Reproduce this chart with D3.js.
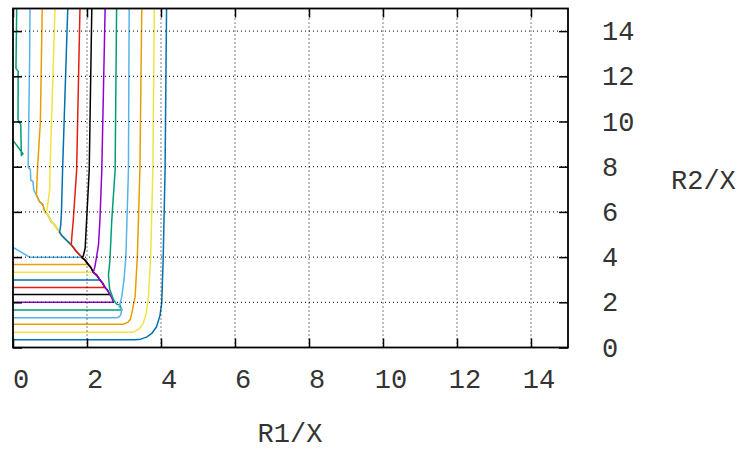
<!DOCTYPE html>
<html>
<head>
<meta charset="utf-8">
<script src="https://cdn.jsdelivr.net/npm/d3@7"></script>
<style>
  html, body { margin: 0; padding: 0; background: #fff; }
  svg { display: block; }
  text { font-family: "Liberation Mono", "DejaVu Sans Mono", monospace; fill: #333; }
</style>
</head>
<body>
<svg id="chart" width="746" height="450"></svg>
<script>
// ---------- data ----------
const xTicks = [0, 2, 4, 6, 8, 10, 12, 14];
const yTicks = [0, 2, 4, 6, 8, 10, 12, 14];
const xTitle = "R1/X";
const yTitle = "R2/X";

const contourColors = ["#009e73", "#56b4e9", "#e69f00", "#f0e442", "#0072b2", "#e51e10", "#000000",
                       "#9400d3", "#009e73", "#56b4e9", "#e69f00", "#f0e442", "#0072b2"];

// shared fold line ("ridge") that the inner contours run along
const ridge = [[0.42,7.95],[0.47,7.88],[0.48,7.4],[0.54,7.35],[0.56,6.97],[0.63,6.75],[0.72,6.45],[0.81,6.31],
  [0.857,6.01],[0.946,5.86],[1.035,5.57],[1.127,5.42],[1.216,5.2],[1.305,4.98],[1.44,4.76],[1.576,4.54],
  [1.72,4.24],[1.86,3.99],[1.95,3.86],[2.035,3.67],[2.10,3.55],[2.17,3.33],[2.26,3.2],[2.35,2.99],
  [2.42,2.85],[2.49,2.65],[2.56,2.52],[2.62,2.34],[2.67,2.2],[2.71,2.0],[2.80,1.92],[2.89,1.88],[2.94,1.66]];

// upper (near-vertical) part of each contour
const contourUpper = [
  [[0.10,15],[0.08,12.35],[0.14,12.22],[0.135,10.1],[0.21,9.85],[0.225,8.5],[0.27,8.57],[0.03,9.1],[0.0,9.13]],
  [[0.46,15],[0.45,12.9],[0.41,8.1]],
  [[0.79,15],[0.74,10],[0.66,7.85],[0.64,7.0]],
  [[1.135,15],[1.0,7.85],[0.99,6.97],[0.92,6.1]],
  [[1.48,15],[1.34,7.85],[1.31,6.0],[1.29,5.4],[1.26,5.1]],
  [[1.81,15],[1.72,7.85],[1.63,5.64],[1.59,4.9]],
  [[2.13,15],[2.06,7.85],[1.99,5.64],[1.95,4.39],[1.9,4.05]],
  [[2.49,15],[2.40,7.85],[2.35,5.64],[2.31,4.54],[2.26,4.02],[2.21,3.55]],
  [[2.80,15],[2.76,7.85],[2.67,5.64],[2.62,3.87],[2.58,3.2],[2.61,2.6],[2.72,2.1]],
  [[3.14,15],[3.12,7.85],[3.05,3.99],[3.0,3.0],[2.94,2.25],[2.87,1.8],[2.94,1.69],[2.91,1.44],[2.86,1.35],[2.8,1.32],[0,1.32]],
  [[3.48,15],[3.43,7.85],[3.36,3.99],[3.3,2.25],[3.21,1.51],[3.17,1.25],[3.1,1.11],[2.98,1.03],[0,1.03]],
  [[3.82,15],[3.78,7.85],[3.72,3.99],[3.66,2.25],[3.6,1.5],[3.52,1.07],[3.4,0.8],[3.25,0.68],[0,0.68]],
  [[4.15,15],[4.11,7.85],[4.06,3.99],[4.02,1.96],[3.97,1.4],[3.88,0.92],[3.75,0.62],[3.61,0.46],[3.45,0.37],[3.3,0.34],[0,0.34]]
];
// stretch of the ridge followed by each contour (upper y, lower y), null = none
const contourRidgeSpan = [null, [7.95,3.99], [6.75,3.67], [6.01,3.33], [4.98,2.99], [4.54,2.65], [3.99,2.34],
  [3.33,2.0], [1.92,1.66], null, null, null, null];
// lower (horizontal) part of each contour, running left to R1/X = 0
const contourLower = [[], [[0.46,3.99],[0,4.43]], [[0,3.67]], [[0,3.33]], [[0,2.99]], [[0,2.65]], [[0,2.34]],
  [[0,2.0]], [[0,1.66]], [], [], [], []];

// ---------- chart ----------
const svg = d3.select("#chart");
const x = d3.scaleLinear().domain([0, 15]).range([13, 568]);
const y = d3.scaleLinear().domain([0, 15]).range([347.5, 8.5]);

svg.append("defs").append("clipPath").attr("id", "plotclip")
  .append("rect").attr("x", x(0)).attr("y", y(15)).attr("width", x(15) - x(0)).attr("height", y(0) - y(15));

const line = d3.line().x(d => x(d[0])).y(d => y(d[1]));
const plot = svg.append("g").attr("clip-path", "url(#plotclip)");

contourUpper.forEach((up, i) => {
  let pts = up.slice();
  const span = contourRidgeSpan[i];
  if (span) pts = pts.concat(ridge.filter(p => p[1] <= span[0] && p[1] >= span[1]));
  pts = pts.concat(contourLower[i]);
  plot.append("path").attr("d", line(pts)).attr("fill", "none")
    .attr("stroke", contourColors[i]).attr("stroke-width", 1.5).attr("stroke-linejoin", "round");
});

// grid
const grid = svg.append("g").attr("stroke", "#000").attr("stroke-width", 1).attr("stroke-dasharray", "1,3");
xTicks.filter(t => t > 0).forEach(t => grid.append("line")
  .attr("x1", x(t)).attr("x2", x(t)).attr("y1", y(0)).attr("y2", y(15)));
yTicks.filter(t => t > 0).forEach(t => grid.append("line")
  .attr("x1", x(0)).attr("x2", x(15)).attr("y1", y(t)).attr("y2", y(t)));

// axes (ticks inward on all four sides)
const tl = 9;
const axBottom = svg.append("g").attr("transform", `translate(0,${y(0)})`)
  .call(d3.axisBottom(x).tickValues(xTicks).tickSizeInner(-tl).tickSizeOuter(0).tickFormat(""));
const axTop = svg.append("g").attr("transform", `translate(0,${y(15)})`)
  .call(d3.axisTop(x).tickValues(xTicks).tickSizeInner(-tl).tickSizeOuter(0).tickFormat(""));
const axLeft = svg.append("g").attr("transform", `translate(${x(0)},0)`)
  .call(d3.axisLeft(y).tickValues(yTicks).tickSizeInner(-tl).tickSizeOuter(0).tickFormat(""));
const axRight = svg.append("g").attr("transform", `translate(${x(15)},0)`)
  .call(d3.axisRight(y).tickValues(yTicks).tickSizeInner(-tl).tickSizeOuter(0).tickFormat(""));
[axBottom, axTop, axLeft, axRight].forEach(g => {
  g.selectAll(".domain").remove();
  g.selectAll(".tick line").attr("stroke", "#000").attr("stroke-width", 1.5);
});

// frame
svg.append("rect").attr("x", x(0)).attr("y", y(15)).attr("width", x(15) - x(0)).attr("height", y(0) - y(15))
  .attr("fill", "none").attr("stroke", "#000").attr("stroke-width", 1.8);

// tick labels
svg.append("g").selectAll("text").data(xTicks).join("text")
  .attr("x", d => x(d) + 8).attr("y", 388).attr("text-anchor", "middle")
  .attr("font-size", 27).text(d => d);
svg.append("g").selectAll("text").data(yTicks).join("text")
  .attr("x", 602).attr("y", d => y(d) + 9).attr("text-anchor", "start")
  .attr("font-size", 27).text(d => d);

// titles
svg.append("text").attr("x", 290).attr("y", 442).attr("text-anchor", "middle").attr("font-size", 27).text(xTitle);
svg.append("text").attr("x", 671).attr("y", 189).attr("text-anchor", "start").attr("font-size", 27).text(yTitle);
</script>
</body>
</html>
